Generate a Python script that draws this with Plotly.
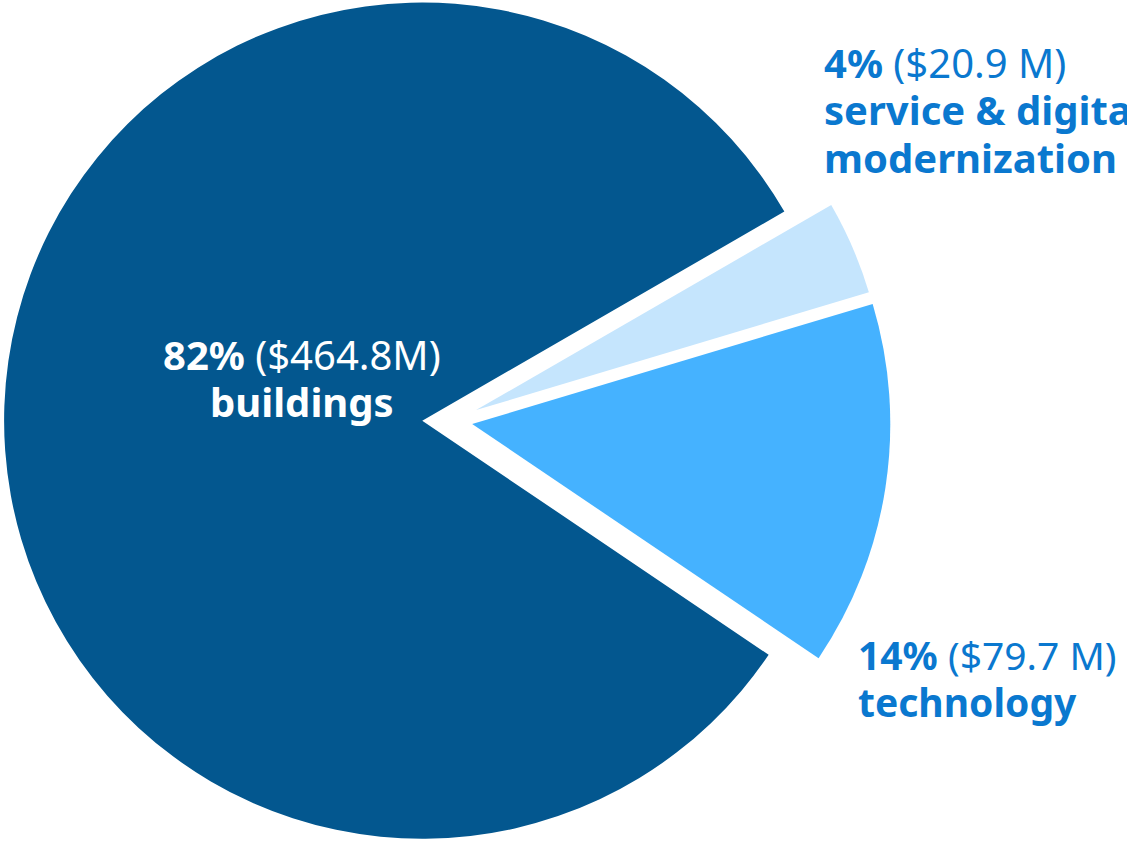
import plotly.graph_objects as go

# capital budget split
categories = ["service & digital modernization", "technology", "buildings"]
amounts = [20.9, 79.7, 464.8]
pct_labels = ["4%", "14%", "82%"]
amount_labels = ["($20.9 M)", "($79.7 M)", "($464.8M)"]

slice_colors = ["#C5E5FD", "#45B2FF", "#03578F"]
label_color = "#0A78CF"
clear = "rgba(0,0,0,0)"

W, H = 1127, 843

# each slice gets its own pie trace so it can sit slightly offset ("exploded")
# without plotly shrinking the radius like pull= does
domains = {
    "buildings": dict(x=[0.0036, 0.7457], y=[0.005, 0.997]),
    "technology": dict(x=[0.0479, 0.7900], y=[0.001, 0.993]),
    "service & digital modernization": dict(x=[0.0484, 0.7964], y=[0.027, 1.0]),
}

fig = go.Figure()
for i, cat in enumerate(categories):
    cols = [slice_colors[j] if j == i else clear for j in range(len(categories))]
    fig.add_trace(go.Pie(
        labels=categories,
        values=amounts,
        sort=False,
        direction="clockwise",
        rotation=60,
        marker=dict(colors=cols, line=dict(width=0)),
        textinfo="none",
        hoverinfo="skip",
        domain=domains[cat],
        showlegend=False,
    ))

# base size sets plotly's line spacing (1.3em), the spans set the glyph size
span = '<span style="font-size:{}px">{}</span>'


def label(lines, x, y, color, anchor, size=40, base=36.5):
    text = "<br>".join(span.format(size, l) for l in lines)
    fig.add_annotation(
        text=text, x=x / W, y=1 - y / H, xref="paper", yref="paper",
        xanchor=anchor, yanchor="middle", showarrow=False, align=anchor,
        font=dict(family="Noto Sans", size=base, color=color),
    )


# buildings (inside the big slice)
label([f"<b>{pct_labels[2]}</b> {amount_labels[2]}", f"<b>{categories[2]}</b>"],
      302, 378, "white", "center")

# service & digital modernization (runs off the right edge like the original)
label([f"<b>{pct_labels[0]}</b> {amount_labels[0]}",
       "<b>service &amp; digital</b>", "<b>modernization</b>"],
      822, 110, label_color, "left")

# technology
label([f"<b>{pct_labels[1]}</b> {amount_labels[1]}", f"<b>{categories[1]}</b>"],
      856, 678, label_color, "left", size=39)

fig.update_layout(
    width=W, height=H,
    margin=dict(l=0, r=0, t=0, b=0),
    paper_bgcolor="white",
    plot_bgcolor="white",
    showlegend=False,
)

# drop the default 8px body margin so the figure fills the window
fig.write_html("out.html", config={"displayModeBar": False},
               post_script="document.body.style.margin='0';")
